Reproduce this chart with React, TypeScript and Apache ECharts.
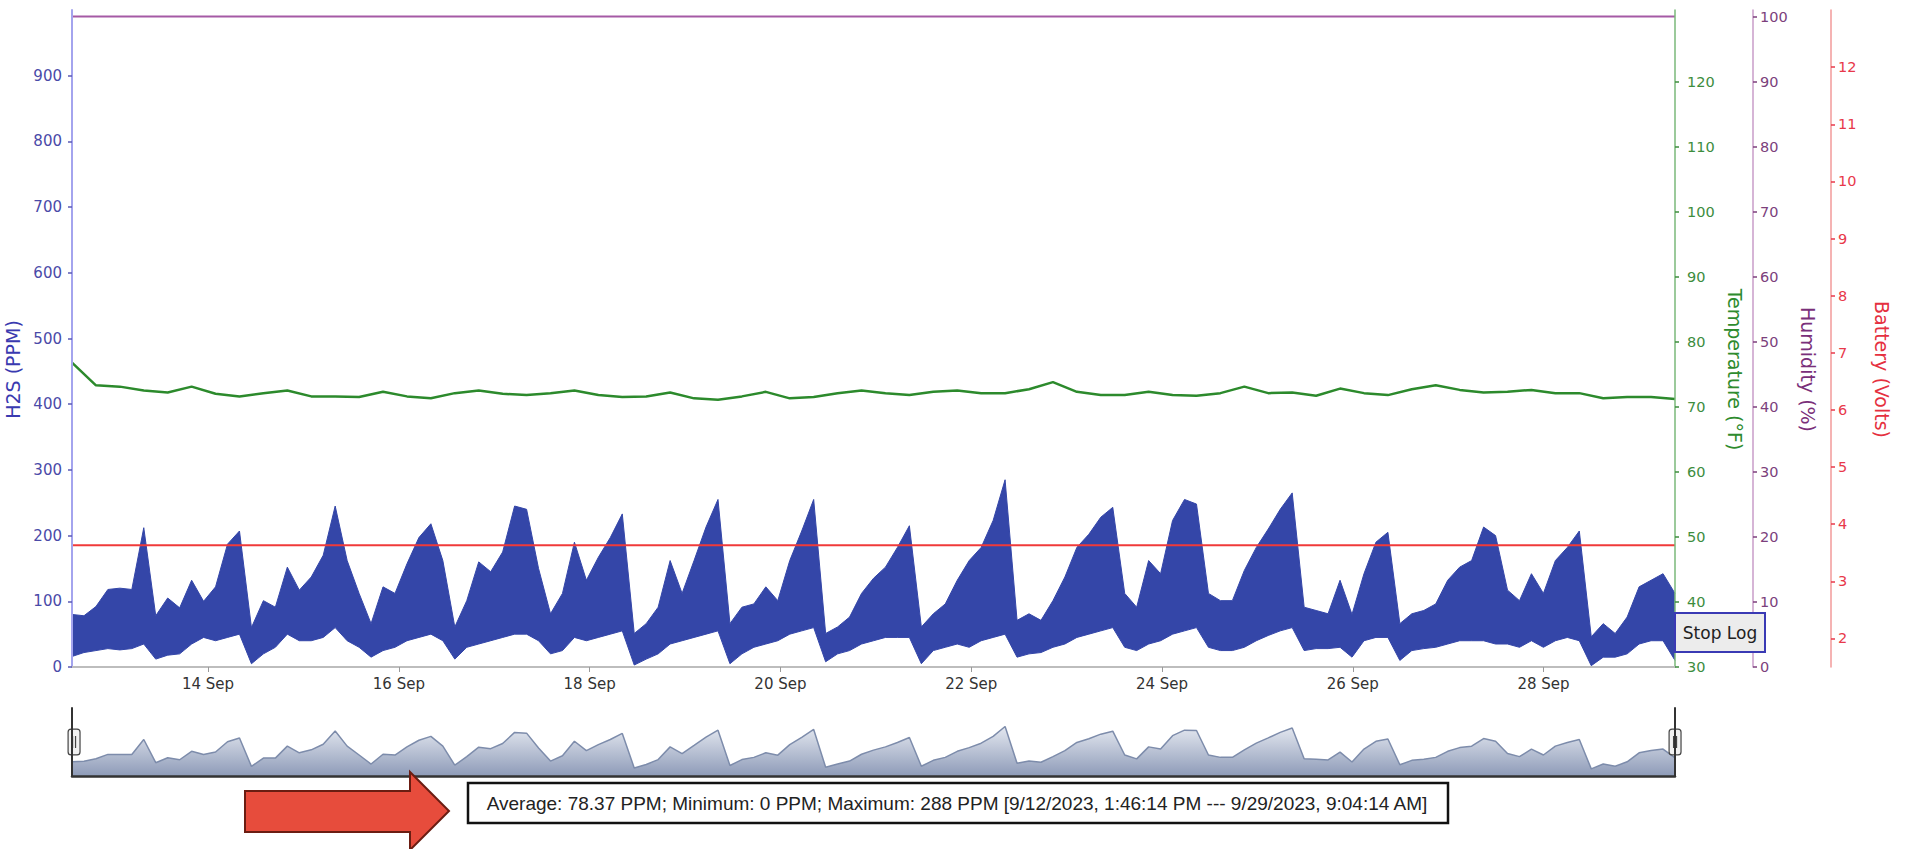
import React, { useEffect, useRef } from 'react';
import * as echarts from 'echarts';

// Time axis expressed in hours since 12 Sep 2023 00:00
const startHour = 13 + 46 / 60 + 14 / 3600; // 9/12/2023, 1:46:14 PM
const endHour = 17 * 24 + 9 + 4 / 60 + 14 / 3600; // 9/29/2023, 9:04:14 AM

const xTickHours = [48, 96, 144, 192, 240, 288, 336, 384];
const xTickLabels = ['14 Sep', '16 Sep', '18 Sep', '20 Sep', '22 Sep', '24 Sep', '26 Sep', '28 Sep'];

const h2sTicks = [0, 100, 200, 300, 400, 500, 600, 700, 800, 900];
const tempTicks = [30, 40, 50, 60, 70, 80, 90, 100, 110, 120];
const humidityTicks = [0, 10, 20, 30, 40, 50, 60, 70, 80, 90, 100];
const batteryTicks = [2, 3, 4, 5, 6, 7, 8, 9, 10, 11, 12];

// H2S (PPM): lower and upper envelope of the dense trace, ~3-hour samples
const h2sLow = [
  16, 22, 25, 28, 26, 28, 35, 12, 18, 20,
  35, 45, 40, 45, 50, 5, 20, 30, 50, 40,
  40, 45, 60, 40, 30, 15, 25, 30, 40, 45,
  50, 40, 12, 30, 35, 40, 45, 50, 50, 40,
  20, 25, 45, 40, 45, 50, 55, 3, 12, 20,
  35, 40, 45, 50, 55, 5, 20, 30, 35, 40,
  50, 55, 60, 8, 20, 25, 35, 40, 45, 45,
  45, 5, 25, 30, 35, 30, 40, 45, 50, 15,
  20, 22, 30, 35, 45, 50, 55, 60, 30, 25,
  35, 40, 50, 55, 60, 30, 25, 25, 30, 40,
  48, 55, 60, 25, 28, 28, 30, 15, 40, 45,
  45, 10, 25, 28, 30, 35, 40, 40, 40, 35,
  35, 30, 40, 30, 40, 45, 40, 2, 15, 15,
  20, 35, 40, 40, 10,
];
const h2sHigh = [
  80, 78, 92, 118, 120, 118, 212, 78, 105, 90,
  132, 100, 122, 187, 207, 60, 101, 91, 152, 117,
  137, 170, 245, 162, 112, 66, 122, 112, 157, 197,
  218, 162, 61, 101, 160, 145, 175, 245, 240, 150,
  81, 112, 190, 132, 167, 197, 233, 51, 66, 91,
  162, 112, 162, 213, 255, 66, 91, 96, 122, 101,
  162, 207, 255, 51, 61, 76, 112, 135, 152, 182,
  215, 61, 81, 96, 132, 162, 182, 223, 285, 71,
  81, 71, 101, 137, 182, 202, 228, 243, 112, 91,
  162, 142, 223, 255, 248, 112, 101, 101, 147, 182,
  210, 240, 265, 91, 86, 81, 132, 80, 142, 190,
  205, 66, 81, 86, 96, 132, 152, 162, 213, 200,
  117, 101, 142, 112, 162, 182, 207, 46, 66, 51,
  76, 122, 132, 142, 112,
];

// Temperature (°F), ~6-hour samples
const temperature = [
  76.8, 73.3, 73.1, 72.5, 72.2, 73.1, 72.0, 71.6, 72.1, 72.5,
  71.6, 71.6, 71.5, 72.3, 71.6, 71.3, 72.1, 72.5, 72.0, 71.8,
  72.1, 72.5, 71.8, 71.5, 71.6, 72.2, 71.3, 71.1, 71.6, 72.3,
  71.3, 71.5, 72.1, 72.5, 72.1, 71.8, 72.3, 72.5, 72.1, 72.1,
  72.7, 73.8, 72.3, 71.8, 71.8, 72.3, 71.8, 71.7, 72.1, 73.1,
  72.1, 72.2, 71.7, 72.8, 72.1, 71.8, 72.7, 73.3, 72.6, 72.2,
  72.3, 72.6, 72.1, 72.1, 71.3, 71.5, 71.5, 71.2,
];

// Humidity (%) and Battery (Volts), start and end of log
const humidity = [100, 100];
const battery = [3.63, 3.63];

const statAverage = '78.37';
const statMinimum = '0';
const statMaximum = '288';
const statRange = '[9/12/2023, 1:46:14 PM --- 9/29/2023, 9:04:14 AM]';

const FONT = "'DejaVu Sans', Verdana, sans-serif";
const H2S_BLUE = '#3446a8';

function timesFor(n: number): number[] {
  const out: number[] = [];
  for (let i = 0; i < n; i++) out.push(startHour + (i * (endHour - startHour)) / (n - 1));
  return out;
}

export default function App() {
  const ref = useRef<HTMLDivElement>(null);

  useEffect(() => {
    document.body.style.margin = '0';
    if (!ref.current) return;
    const chart = echarts.init(ref.current, undefined, { renderer: 'svg' });

    const hT = timesFor(h2sLow.length);
    const tT = timesFor(temperature.length);
    const eT = timesFor(humidity.length);

    const lowData = h2sLow.map((v, i) => [hT[i], v]);
    const highData = h2sHigh.map((v, i) => [hT[i], v]);
    const navData = h2sHigh.map((v, i) => [hT[i], (v + h2sLow[i]) / 2]);
    const tempData = temperature.map((v, i) => [tT[i], v]);
    const humData = humidity.map((v, i) => [eT[i], v]);
    const batData = battery.map((v, i) => [eT[i], v]);

    const statsText = `Average: ${statAverage} PPM; Minimum: ${statMinimum} PPM; Maximum: ${statMaximum} PPM ${statRange}`;

    const rightAxis = (
      name: string,
      offset: number,
      min: number,
      max: number,
      ticks: number[],
      lineColor: string,
      labelColor: string,
      nameColor: string,
      margin: number
    ) => ({
      type: 'value',
      gridIndex: 0,
      position: 'right',
      offset,
      min,
      max,
      z: 10,
      name,
      nameLocation: 'middle',
      nameRotate: -90,
      nameGap: 41,
      nameTextStyle: { color: nameColor, fontSize: 19, fontFamily: FONT, padding: [0, 0, 0, 62] },
      axisLine: { show: true, onZero: false, lineStyle: { color: lineColor, width: 1.5 } },
      axisTick: { show: true, length: 4, customValues: ticks, lineStyle: { color: labelColor, width: 1.5 } },
      axisLabel: { customValues: ticks, color: labelColor, fontSize: 14.5, fontFamily: FONT, margin },
      splitLine: { show: false },
    });

    const option: any = {
      animation: false,
      backgroundColor: '#ffffff',
      textStyle: { fontFamily: FONT },
      grid: [
        { left: 72, right: 235, top: 10, height: 657, outerBoundsMode: 'none' },
        { left: 72, right: 235, top: 708, height: 68, outerBoundsMode: 'none' },
      ],
      xAxis: [
        {
          type: 'value',
          gridIndex: 0,
          min: startHour,
          max: endHour,
          z: 10,
          axisLine: { show: true, onZero: false, lineStyle: { color: '#bdbdbd', width: 2 } },
          axisTick: { show: true, length: 5, customValues: xTickHours, lineStyle: { color: '#9a9a9a' } },
          axisLabel: {
            customValues: xTickHours,
            color: '#333333',
            fontSize: 15,
            fontFamily: FONT,
            margin: 9,
            formatter: (v: number) => {
              const i = xTickHours.indexOf(Math.round(v));
              return i >= 0 ? xTickLabels[i] : '';
            },
          },
          splitLine: { show: false },
        },
        {
          type: 'value',
          gridIndex: 1,
          min: startHour,
          max: endHour,
          z: 10,
          axisLine: { show: true, onZero: false, lineStyle: { color: '#333333', width: 2.5 } },
          axisTick: { show: false },
          axisLabel: { show: false },
          splitLine: { show: false },
        },
      ],
      yAxis: [
        {
          type: 'value',
          gridIndex: 0,
          position: 'left',
          min: 0,
          max: 1000,
          z: 10,
          name: 'H2S (PPM)',
          nameLocation: 'middle',
          nameGap: 42,
          nameTextStyle: { color: '#3a3ab0', fontSize: 19, fontFamily: FONT, padding: [0, 62, 0, 0] },
          axisLine: { show: true, onZero: false, lineStyle: { color: '#a4a4ee', width: 2 } },
          axisTick: { show: true, length: 4, customValues: h2sTicks, lineStyle: { color: '#5a5ab4', width: 1.5 } },
          axisLabel: { customValues: h2sTicks, color: '#4a4aa8', fontSize: 15, fontFamily: FONT, margin: 10 },
          splitLine: { show: false },
        },
        rightAxis('Temperature (°F)', 0, 30, 131, tempTicks, '#7ab87a', '#3d8d3d', '#2e8b2e', 12),
        rightAxis('Humidity (%)', 78, 0, 101, humidityTicks, '#c99cc9', '#7c3f7c', '#7a2f7a', 7),
        rightAxis('Battery (Volts)', 156, 1.5, 13, batteryTicks, '#f29a9a', '#e8384a', '#e53040', 7),
        {
          type: 'value',
          gridIndex: 1,
          position: 'left',
          min: 0,
          max: 230,
          z: 10,
          axisLine: { show: true, onZero: false, lineStyle: { color: '#333333', width: 2 } },
          axisTick: { show: false },
          axisLabel: { show: false },
          splitLine: { show: false },
        },
        {
          type: 'value',
          gridIndex: 1,
          position: 'right',
          min: 0,
          max: 230,
          z: 10,
          axisLine: { show: true, onZero: false, lineStyle: { color: '#333333', width: 2 } },
          axisTick: { show: false },
          axisLabel: { show: false },
          splitLine: { show: false },
        },
      ],
      dataZoom: [
        {
          type: 'slider',
          xAxisIndex: [0, 1],
          filterMode: 'none',
          start: 0,
          end: 100,
          left: 72,
          right: 235,
          top: 708,
          height: 68,
          showDataShadow: false,
          showDetail: false,
          brushSelect: false,
          backgroundColor: 'rgba(0,0,0,0)',
          fillerColor: 'rgba(0,0,0,0)',
          borderColor: 'rgba(0,0,0,0)',
          handleIcon:
            'path://M3,0H9A3,3,0,0,1,12,3V23A3,3,0,0,1,9,26H3A3,3,0,0,1,0,23V3A3,3,0,0,1,3,0ZM4.5,7V19M7.5,7V19',
          handleSize: '38%',
          handleStyle: { color: '#f2f2f2', borderColor: '#444444', borderWidth: 1.2 },
          moveHandleSize: 0,
          emphasis: { handleStyle: { color: '#f2f2f2', borderColor: '#444444' } },
        },
      ],
      series: [
        {
          name: 'H2S',
          type: 'line',
          xAxisIndex: 0,
          yAxisIndex: 0,
          data: highData,
          symbol: 'none',
          lineStyle: { color: H2S_BLUE, width: 1 },
          areaStyle: { color: H2S_BLUE, opacity: 1 },
          z: 2,
        },
        {
          // lower envelope: area below it is left blank (white)
          name: 'H2S low',
          type: 'line',
          xAxisIndex: 0,
          yAxisIndex: 0,
          data: lowData,
          symbol: 'none',
          silent: true,
          lineStyle: { color: H2S_BLUE, width: 1 },
          areaStyle: { color: '#ffffff', opacity: 1 },
          z: 2,
        },
        {
          name: 'Temperature',
          type: 'line',
          xAxisIndex: 0,
          yAxisIndex: 1,
          data: tempData,
          symbol: 'none',
          lineStyle: { color: '#2c8a2c', width: 2.5 },
          z: 3,
        },
        {
          name: 'Humidity',
          type: 'line',
          xAxisIndex: 0,
          yAxisIndex: 2,
          data: humData,
          symbol: 'none',
          lineStyle: { color: '#a55aa5', width: 2 },
          z: 3,
        },
        {
          name: 'Battery',
          type: 'line',
          xAxisIndex: 0,
          yAxisIndex: 3,
          data: batData,
          symbol: 'none',
          lineStyle: { color: '#f03a3a', width: 2 },
          z: 4,
        },
        {
          name: 'Navigator',
          type: 'line',
          xAxisIndex: 1,
          yAxisIndex: 4,
          data: navData,
          symbol: 'none',
          lineStyle: { color: '#7d8cab', width: 1.5 },
          areaStyle: {
            opacity: 1,
            color: new echarts.graphic.LinearGradient(0, 0, 0, 1, [
              { offset: 0, color: '#e4e8f0' },
              { offset: 1, color: '#8e9bb8' },
            ]),
          },
        },
      ],
      graphic: [
        {
          type: 'polygon',
          z: 100,
          shape: {
            points: [
              [245, 791],
              [410, 791],
              [410, 772],
              [449, 811],
              [410, 850],
              [410, 832],
              [245, 832],
            ],
          },
          style: { fill: '#e74c3c', stroke: '#6b1d12', lineWidth: 2 },
        },
        {
          type: 'rect',
          z: 100,
          shape: { x: 468, y: 783, width: 980, height: 40 },
          style: { fill: '#ffffff', stroke: '#111111', lineWidth: 2.5 },
        },
        {
          type: 'text',
          z: 101,
          x: 957,
          y: 803,
          style: {
            text: statsText,
            fill: '#222222',
            fontSize: 19,
            fontFamily: "'Liberation Sans', Arial, sans-serif",
            align: 'center',
            verticalAlign: 'middle',
          },
        },
        {
          type: 'rect',
          z: 100,
          shape: { x: 1675, y: 613, width: 90, height: 39 },
          style: { fill: '#ececec', stroke: '#3a3ab4', lineWidth: 2 },
        },
        {
          type: 'text',
          z: 101,
          x: 1720,
          y: 633,
          style: {
            text: 'Stop Log',
            fill: '#222222',
            fontSize: 17,
            fontFamily: FONT,
            align: 'center',
            verticalAlign: 'middle',
          },
        },
      ],
    };

    chart.setOption(option);
    return () => {
      chart.dispose();
    };
  }, []);

  return <div ref={ref} style={{ width: 1910, height: 849 }} />;
}
